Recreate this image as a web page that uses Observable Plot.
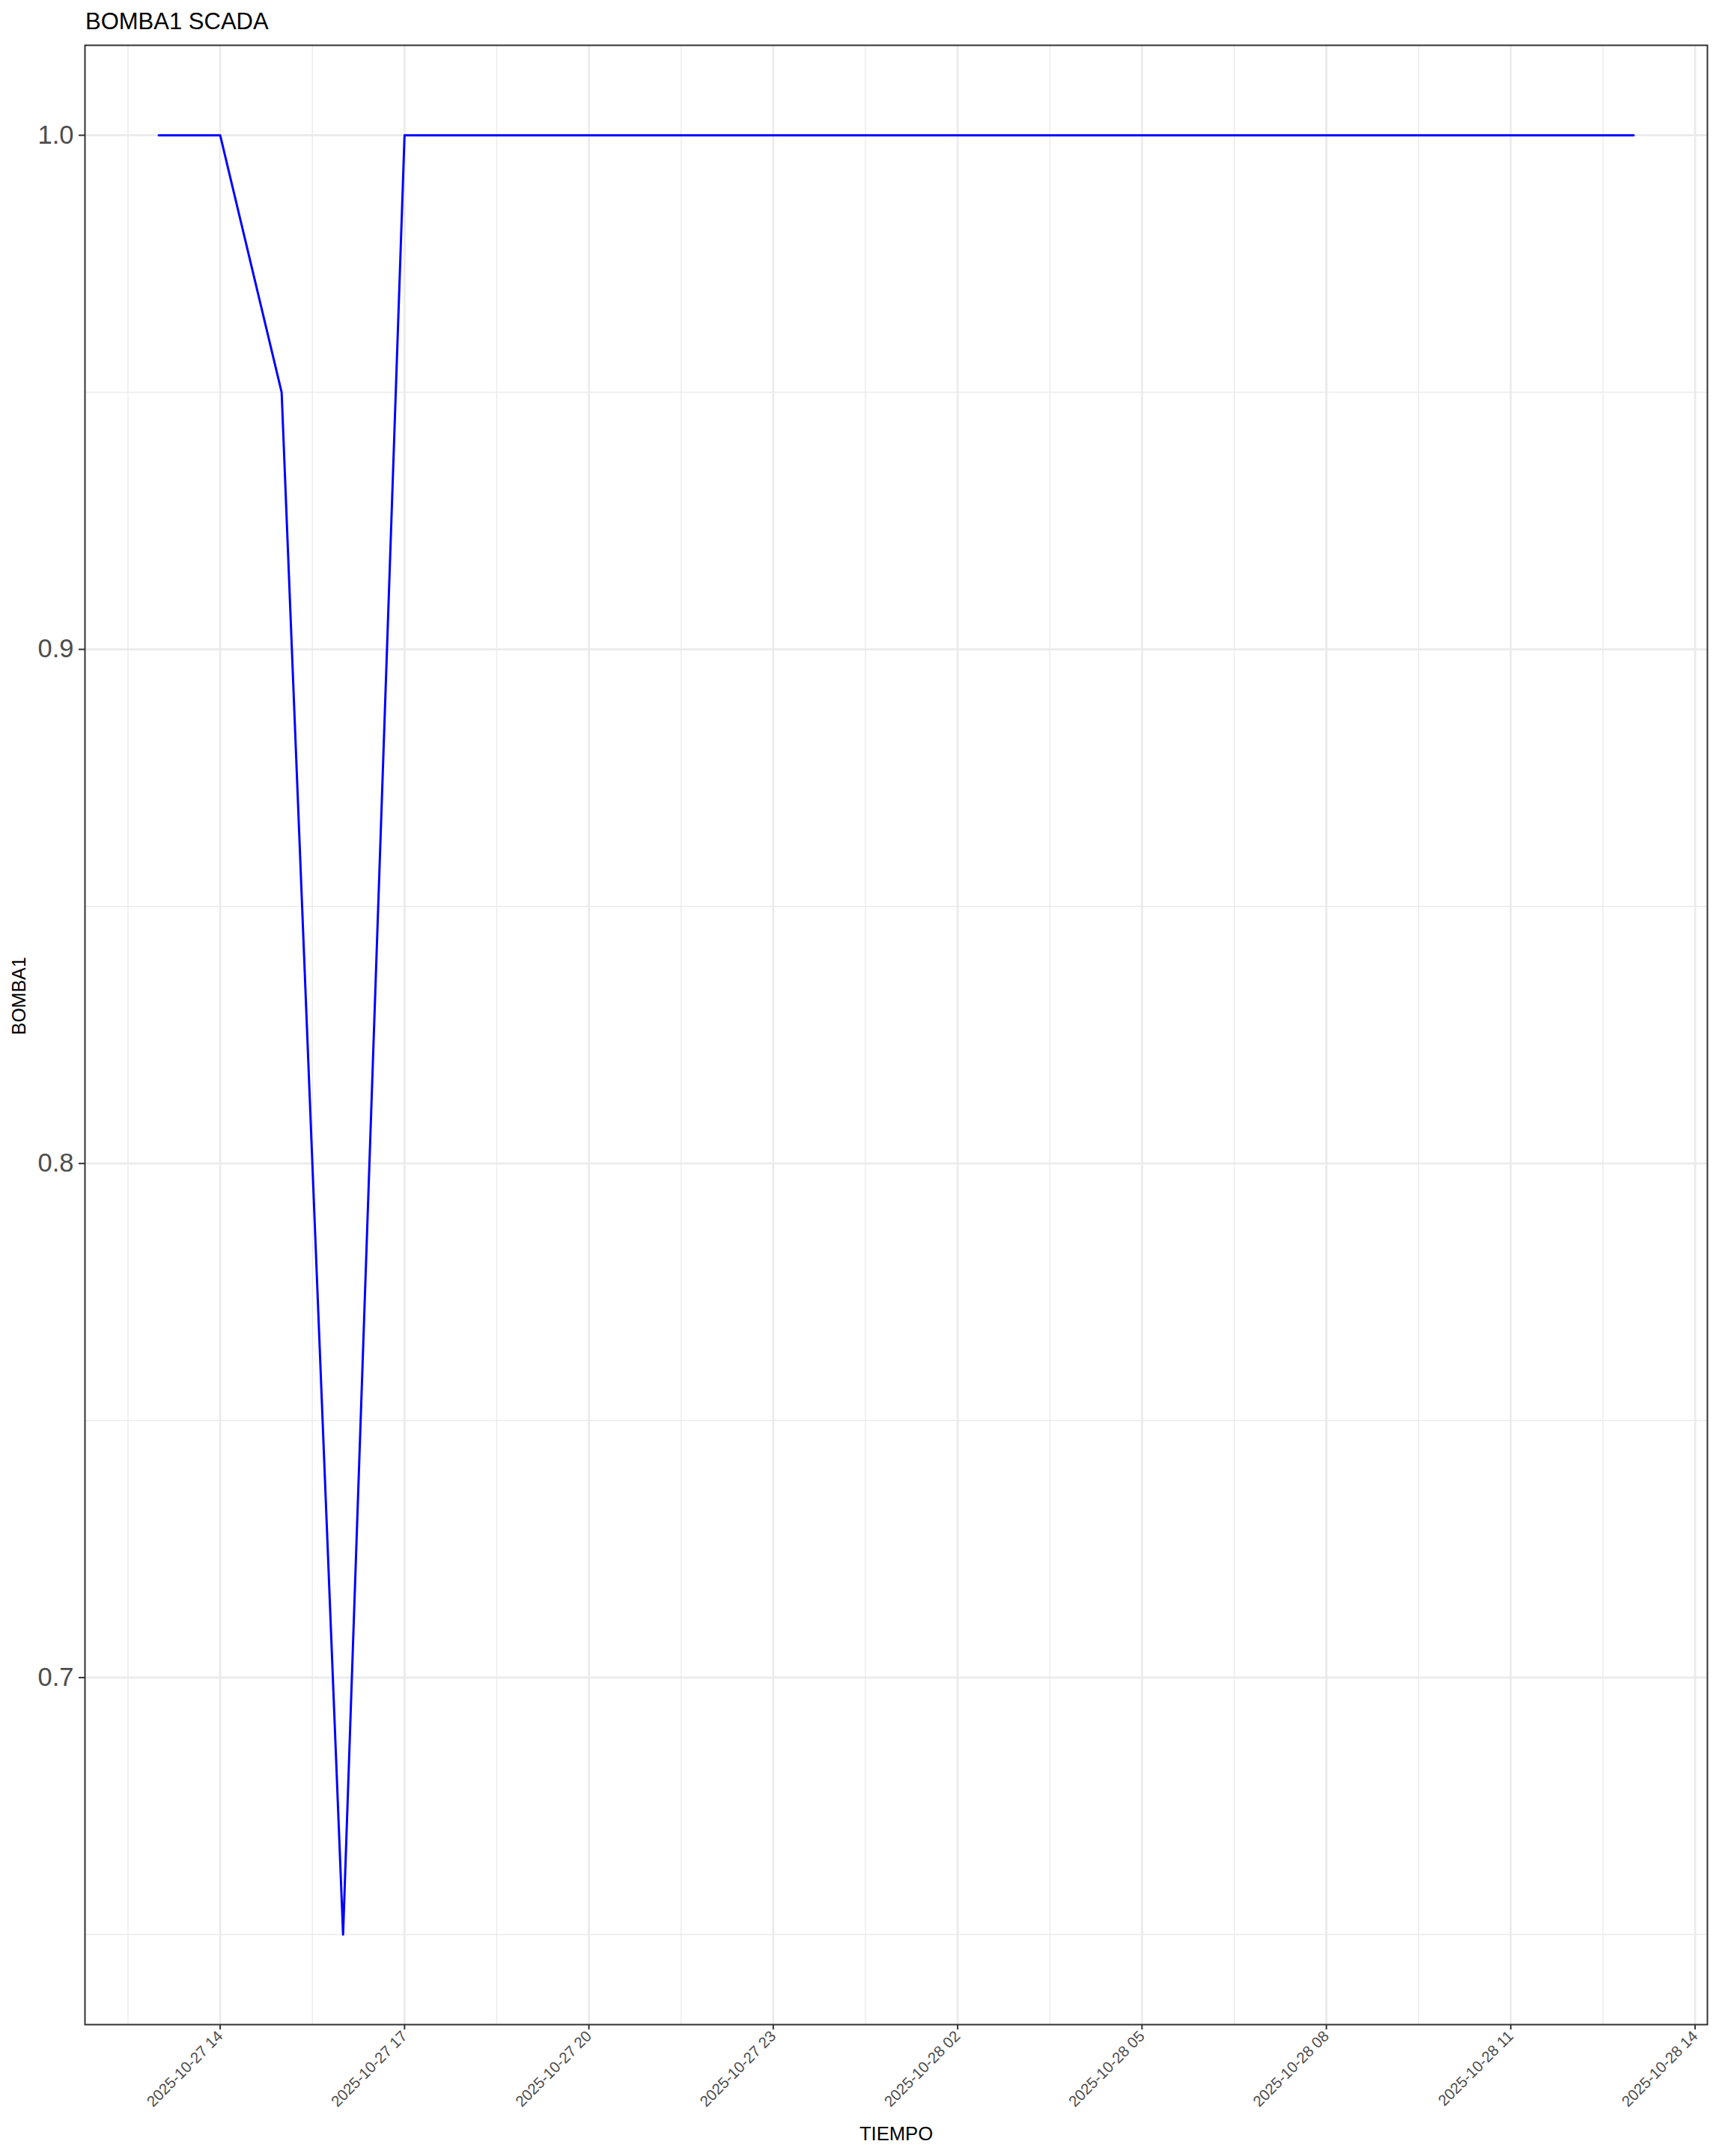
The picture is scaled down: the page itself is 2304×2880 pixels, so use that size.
<!DOCTYPE html>
<html>
<head>
<meta charset="utf-8">
<script src="https://cdn.jsdelivr.net/npm/d3@7"></script>
<script src="https://cdn.jsdelivr.net/npm/@observablehq/plot@0.6"></script>
<style>
  html, body { margin: 0; padding: 0; background: #ffffff; }
  body { width: 2304px; font-family: "Liberation Sans", Helvetica, Arial, sans-serif; }
  #title { position: relative; height: 59px; }
  #title span { position: absolute; left: 114px; top: 13px; font-size: 31px; line-height: 31px; color: #000; white-space: nowrap; }
  svg { display: block; }
</style>
</head>
<body>
<div id="title"><span>BOMBA1 SCADA</span></div>
<div id="chart"></div>
<script>
// ---- data ----
const tiempo = [
  "2025-10-27T13:00", "2025-10-27T14:00", "2025-10-27T15:00", "2025-10-27T16:00",
  "2025-10-27T17:00", "2025-10-27T18:00", "2025-10-27T19:00", "2025-10-27T20:00",
  "2025-10-27T21:00", "2025-10-27T22:00", "2025-10-27T23:00", "2025-10-28T00:00",
  "2025-10-28T01:00", "2025-10-28T02:00", "2025-10-28T03:00", "2025-10-28T04:00",
  "2025-10-28T05:00", "2025-10-28T06:00", "2025-10-28T07:00", "2025-10-28T08:00",
  "2025-10-28T09:00", "2025-10-28T10:00", "2025-10-28T11:00", "2025-10-28T12:00",
  "2025-10-28T13:00"
];
const bomba1 = [
  1, 1, 0.95, 0.65,
  1, 1, 1, 1,
  1, 1, 1, 1,
  1, 1, 1, 1,
  1, 1, 1, 1,
  1, 1, 1, 1,
  1
];
const xTickLabels = [
  "2025-10-27T14:00", "2025-10-27T17:00", "2025-10-27T20:00", "2025-10-27T23:00",
  "2025-10-28T02:00", "2025-10-28T05:00", "2025-10-28T08:00", "2025-10-28T11:00",
  "2025-10-28T14:00"
];
const xMinorBreaks = [
  "2025-10-27T12:30", "2025-10-27T15:30", "2025-10-27T18:30", "2025-10-27T21:30",
  "2025-10-28T00:30", "2025-10-28T03:30", "2025-10-28T06:30", "2025-10-28T09:30",
  "2025-10-28T12:30"
];
const yTicks = [0.7, 0.8, 0.9, 1.0];
const yMinorBreaks = [0.65, 0.75, 0.85, 0.95];
const xDomain = ["2025-10-27T11:48", "2025-10-28T14:12"];
const yDomain = [0.6325, 1.0175];

// ---- build ----
const parse = s => new Date(s);
const rows = tiempo.map((t, i) => ({TIEMPO: parse(t), BOMBA1: bomba1[i]}));
const xMajor = xTickLabels.map(parse);
const xMinor = xMinorBreaks.map(parse);

const chart = Plot.plot({
  width: 2304,
  height: 2821,
  marginTop: 1,
  marginLeft: 113,
  marginRight: 24,
  marginBottom: 176,
  style: {fontFamily: "'Liberation Sans', Helvetica, Arial, sans-serif", background: "#ffffff"},
  x: {type: "time", domain: xDomain.map(parse)},
  y: {domain: yDomain},
  marks: [
    Plot.gridX(xMinor, {stroke: "#EBEBEB", strokeOpacity: 1, strokeWidth: 1.4}),
    Plot.gridY(yMinorBreaks, {stroke: "#EBEBEB", strokeOpacity: 1, strokeWidth: 1.4}),
    Plot.gridX(xMajor, {stroke: "#EBEBEB", strokeOpacity: 1, strokeWidth: 2.8}),
    Plot.gridY(yTicks, {stroke: "#EBEBEB", strokeOpacity: 1, strokeWidth: 2.8}),
    Plot.line(rows, {x: "TIEMPO", y: "BOMBA1", stroke: "#0000FF", strokeWidth: 3}),
    Plot.frame({stroke: "#333333", strokeWidth: 2}),
    Plot.axisY(yTicks, {
      tickFormat: d3.format(".1f"), tickSize: 8, tickPadding: 7,
      fontSize: 34.5, fill: "#4D4D4D", stroke: "#333333", strokeWidth: 2, label: null
    }),
    Plot.axisX(xMajor, {
      tickFormat: d3.timeFormat("%Y-%m-%d %H"), tickRotate: -45, tickSize: 7, tickPadding: 5,
      fontSize: 20.5, fill: "#4D4D4D", stroke: "#333333", strokeWidth: 2, label: null
    }),
    Plot.text(["TIEMPO"], {frameAnchor: "bottom", dy: 154, lineAnchor: "bottom", fontSize: 25.6, fill: "#000000"}),
    Plot.text(["BOMBA1"], {frameAnchor: "left", dx: -88, rotate: -90, lineAnchor: "middle", fontSize: 25, fill: "#000000"})
  ]
});
document.getElementById("chart").appendChild(chart);
</script>
</body>
</html>
